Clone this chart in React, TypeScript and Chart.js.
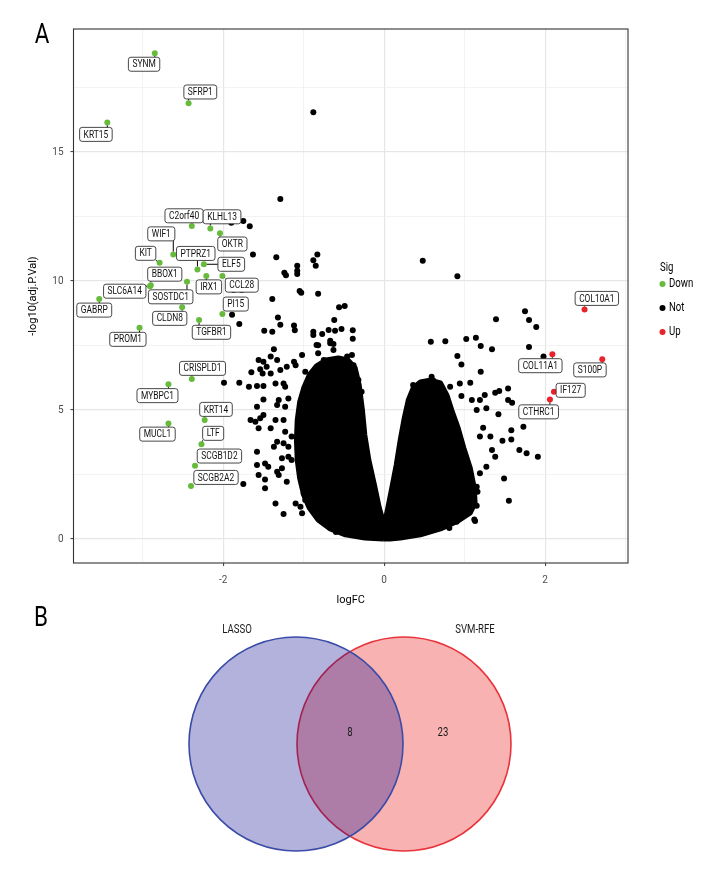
import React, { useEffect, useRef } from 'react';
import { Chart, registerables } from 'chart.js';

Chart.register(...registerables);

const FONT = "Roboto, 'Liberation Sans', sans-serif";
const SQUEEZE = 0.8; // horizontal compression to mimic the condensed face of the original

// ---------------- Data ----------------
const sigLevels = ['Down', 'Not', 'Up'];
const sigColors = ['#66BB3C', '#000000', '#E8232B'];

const downGenes = ['SYNM', 'SFRP1', 'KRT15', 'C2orf40', 'KLHL13', 'OKTR', 'WIF1', 'PTPRZ1', 'ELF5', 'KIT', 'IRX1', 'CCL28', 'BBOX1', 'SLC6A14', 'SOSTDC1', 'GABRP', 'CLDN8', 'TGFBR1', 'PI15', 'PROM1', 'CRISPLD1', 'MYBPC1', 'KRT14', 'MUCL1', 'LTF', 'SCGB1D2', 'SCGB2A2'];
const downLogFC = [-2.85, -2.43, -3.44, -2.39, -2.16, -2.04, -2.62, -2.32, -2.24, -2.79, -2.21, -2.01, -2.90, -2.91, -2.45, -3.54, -2.51, -2.30, -2.01, -3.04, -2.39, -2.68, -2.23, -2.68, -2.27, -2.35, -2.40];
const downNegLogP = [18.83, 16.89, 16.15, 12.13, 12.04, 11.85, 11.03, 10.45, 10.65, 10.71, 10.20, 10.20, 9.84, 9.80, 9.97, 9.30, 8.98, 8.49, 8.72, 8.19, 6.20, 6.00, 4.61, 4.48, 3.67, 2.84, 2.05];

const upGenes = ['COL10A1', 'COL11A1', 'S100P', 'IF127', 'CTHRC1'];
const upLogFC = [2.49, 2.09, 2.71, 2.11, 2.06];
const upNegLogP = [8.90, 7.16, 6.97, 5.71, 5.41];

// non-significant genes (scattered, outside the dense core)
const notPoints: [number, number][] = [
  [-0.88, 16.54], [-1.29, 13.18], [-1.75, 12.33], [-1.67, 12.12], [-1.90, 12.26], [-1.63, 11.03], [-1.34, 10.92],
  [-1.24, 10.32], [-1.22, 10.22], [-1.08, 10.59], [-1.08, 10.40], [-1.08, 10.27], [-0.88, 10.81], [-0.83, 11.03],
  [-0.85, 10.59], [0.48, 10.79], [0.91, 10.19], [-1.05, 9.61], [-1.03, 9.55], [-0.82, 9.51], [-1.39, 9.30],
  [-1.87, 9.65], [-1.77, 9.65], [-1.89, 8.69], [-1.80, 8.33], [-1.32, 8.59], [-1.29, 8.31], [-1.49, 8.07],
  [-1.39, 8.03], [-1.12, 8.28], [-1.11, 8.09], [-0.56, 8.98], [-0.49, 9.03], [-0.62, 8.49], [-0.88, 8.03],
  [-0.88, 7.91], [-0.77, 7.95], [-0.69, 8.10], [-0.61, 8.07], [-0.53, 8.14], [-0.39, 8.09], [-0.39, 7.76],
  [-0.67, 7.69], [-0.63, 7.56], [-0.82, 7.51], [-1.37, 7.36],
  [1.39, 8.52], [1.75, 8.83], [1.80, 8.49], [1.89, 8.22], [0.58, 7.65], [0.76, 7.67], [1.02, 7.75], [1.14, 7.80],
  [1.20, 7.48], [1.34, 7.36], [1.80, 7.44], [1.98, 7.07], [0.91, 7.09], [0.96, 6.76], [1.20, 6.48],
  [-1.41, 7.07], [-1.33, 6.94], [-1.50, 6.87], [-1.56, 6.94], [-1.46, 6.68], [-1.54, 6.58], [-1.65, 6.46],
  [-1.80, 6.06], [-1.58, 5.93], [-1.50, 5.93], [-1.35, 6.03], [-1.25, 6.03], [-1.23, 5.90], [-1.19, 5.45],
  [-1.31, 5.39], [-1.33, 5.19], [-1.23, 5.13], [-1.50, 5.41], [-1.58, 5.13], [-1.50, 4.81], [-1.54, 4.68],
  [-1.66, 4.61], [-1.60, 4.55], [-1.56, 4.29], [-1.41, 4.29], [-1.35, 4.61], [-1.25, 4.61], [-1.23, 4.16],
  [-1.33, 3.77], [-1.37, 3.58], [-1.25, 3.71], [-1.19, 3.58], [-1.15, 3.97], [-1.58, 3.38], [-1.27, 3.13],
  [-1.19, 3.19], [-1.15, 3.06], [-1.58, 2.87], [-1.48, 2.93], [-1.44, 2.80], [-1.27, 2.74], [-1.33, 2.61],
  [-1.56, 2.48], [-1.48, 2.31], [-1.48, 1.97], [-1.21, 2.22], [-1.31, 2.48], [-1.75, 2.13], [-1.35, 1.38],
  [-1.25, 0.97], [-1.10, 1.38], [-1.04, 1.25], [-1.02, 1.00], [-1.00, 1.77], [-0.98, 1.51],
  [-1.12, 6.87], [-1.10, 6.74], [-1.02, 7.13], [-0.84, 7.52], [-0.82, 7.20], [-0.75, 6.94], [-0.67, 7.59],
  [-0.63, 7.33], [-0.46, 7.07], [-0.40, 7.13], [-0.38, 6.74], [-0.46, 6.48], [-0.32, 6.16], [-0.28, 5.71],
  [-0.55, 6.29], [-0.88, 6.29], [-0.98, 6.48], [-0.92, 5.90],
  [-1.99, 6.06], [-1.68, 5.90], [-1.51, 6.42], [-1.41, 6.42], [-1.29, 6.55], [-1.21, 6.68],
  [0.36, 5.97], [0.47, 6.06], [0.59, 6.29], [0.61, 6.14], [0.72, 5.78], [0.82, 5.90], [0.94, 6.03], [1.07, 6.06],
  [0.96, 5.54], [1.09, 5.39], [1.19, 5.39], [1.25, 5.58], [1.15, 5.00], [1.27, 5.07], [1.38, 5.67], [1.43, 5.74],
  [1.54, 5.83], [1.54, 5.39], [1.59, 5.28], [1.42, 4.84], [1.23, 4.31], [1.32, 3.97], [1.19, 3.97], [1.73, 4.35],
  [1.58, 4.22], [1.47, 3.81], [1.58, 3.86], [1.68, 3.45], [1.77, 3.32], [1.91, 3.19], [1.34, 3.45], [1.38, 3.19],
  [1.27, 2.80], [1.19, 2.55], [1.49, 2.35], [1.15, 2.03], [1.16, 1.83], [1.55, 1.48], [1.15, 1.29], [1.03, 1.06],
  [0.84, 1.10], [1.12, 0.76], [0.90, 0.67],
  [-0.73, 0.66], [-0.60, 0.27], [-0.36, 0.16], [0.76, 0.54], [0.81, 0.43], [1.13, 0.70],
];

// outline of the dense, fully overlapping core of non-significant genes
const coreOutline: [number, number][] = [
  [-0.01, 0], [-0.24, 0.04], [-0.48, 0.16], [-0.67, 0.39], [-0.82, 0.74], [-0.93, 1.20], [-1.00, 1.71],
  [-1.05, 2.36], [-1.08, 3.06], [-1.09, 3.84], [-1.08, 4.61], [-1.05, 5.31], [-1.00, 5.85], [-0.93, 6.36],
  [-0.84, 6.71], [-0.72, 6.94], [-0.57, 7.02], [-0.45, 6.94], [-0.36, 6.63], [-0.31, 5.97], [-0.27, 5.00],
  [-0.24, 4.03], [-0.19, 3.06], [-0.12, 2.09], [-0.06, 1.20], [-0.01, 0.66], [0, 0.54], [0.04, 1.12],
  [0.09, 1.90], [0.15, 2.87], [0.20, 3.84], [0.25, 4.69], [0.30, 5.39], [0.36, 5.85], [0.45, 6.09],
  [0.57, 6.16], [0.70, 6.05], [0.78, 5.58], [0.84, 5.00], [0.92, 4.30], [0.99, 3.53], [1.07, 2.75],
  [1.12, 1.98], [1.13, 1.40], [1.07, 1.01], [0.92, 0.70], [0.70, 0.39], [0.45, 0.16], [0.20, 0.04],
  [0.07, 0], [-0.01, 0],
];

const xTickLabels = [-2, 0, 2];
const yTickLabels = [0, 5, 10, 15];

const vennSets = ['LASSO', 'SVM-RFE'];
const vennRegionCounts = [0, 8, 23]; // LASSO only, both, SVM-RFE only

// ---------------- Layout (label placement, px offsets from point) ----------------
const labelNudge: Record<string, [number, number]> = {
  SYNM: [-10.7, 11], SFRP1: [11.7, -11.3], KRT15: [-11.4, 12], C2orf40: [-7.7, -10.3], KLHL13: [11.7, -11.6],
  OKTR: [12.4, 10.7], WIF1: [-12, -20.6], PTPRZ1: [-1.7, -16], ELF5: [27.4, 0], KIT: [-14, -9.4],
  IRX1: [2.6, 11], CCL28: [19.4, 9.3], BBOX1: [14, -11], SLC6A14: [-25.2, 5], SOSTDC1: [-16.3, 15],
  GABRP: [-5, 11], CLDN8: [-12.4, 11], TGFBR1: [12.4, 12.3], PI15: [13.4, -10], PROM1: [-11.6, 11.6],
  CRISPLD1: [10.7, -10.7], MYBPC1: [-11, 11.4], KRT14: [11.3, -10.7], MUCL1: [-11, 10.7], LTF: [11.7, -11],
  SCGB1D2: [24.4, -9.7], SCGB2A2: [25, -8.7], COL10A1: [12.3, -11], COL11A1: [-12, 11.4], S100P: [-12.3, 10.7],
  IF127: [16.7, -1.4], CTHRC1: [-11.3, 12.4],
};

const W = 720;
const TOP_H = 610;
const BOT_TOP = 600;
const BOT_H = 288;
const PT_R = 3;

function roundRect(ctx: CanvasRenderingContext2D, x: number, y: number, w: number, h: number, r: number) {
  ctx.beginPath();
  ctx.moveTo(x + r, y);
  ctx.lineTo(x + w - r, y);
  ctx.arcTo(x + w, y, x + w, y + r, r);
  ctx.lineTo(x + w, y + h - r);
  ctx.arcTo(x + w, y + h, x + w - r, y + h, r);
  ctx.lineTo(x + r, y + h);
  ctx.arcTo(x, y + h, x, y + h - r, r);
  ctx.lineTo(x, y + r);
  ctx.arcTo(x, y, x + r, y, r);
  ctx.closePath();
}

function squeezedText(ctx: CanvasRenderingContext2D, text: string, x: number, y: number, align: CanvasTextAlign) {
  ctx.save();
  ctx.translate(x, y);
  ctx.scale(SQUEEZE, 1);
  ctx.textAlign = align;
  ctx.textBaseline = 'middle';
  ctx.fillText(text, 0, 0);
  ctx.restore();
}

const volcanoDecor = {
  id: 'volcanoDecor',
  afterDatasetsDraw(chart: any) {
    const { ctx, chartArea: a, scales } = chart;
    const xs = scales.x, ys = scales.y;
    ctx.save();
    ctx.strokeStyle = '#333333';
    ctx.lineWidth = 1.1;
    ctx.strokeRect(a.left, a.top, a.right - a.left, a.bottom - a.top);

    ctx.font = `10.5px ${FONT}`;
    const drawLabel = (name: string, vx: number, vy: number) => {
      const px = xs.getPixelForValue(vx), py = ys.getPixelForValue(vy);
      const [dx, dy] = labelNudge[name] || [0, -12];
      const cx = px + dx, cy = py + dy;
      const w = ctx.measureText(name).width * SQUEEZE + 8, h = 14;
      const l = cx - w / 2, t = cy - h / 2;
      const qx = Math.max(l, Math.min(px, l + w)), qy = Math.max(t, Math.min(py, t + h));
      const d = Math.hypot(qx - px, qy - py);
      if (d > PT_R + 0.5) {
        const sx = px + (qx - px) * (PT_R / d), sy = py + (qy - py) * (PT_R / d);
        ctx.beginPath();
        ctx.moveTo(sx, sy);
        ctx.lineTo(qx, qy);
        ctx.strokeStyle = '#000';
        ctx.lineWidth = 1;
        ctx.stroke();
      }
      roundRect(ctx, l, t, w, h, 2.5);
      ctx.fillStyle = '#ffffff';
      ctx.fill();
      ctx.strokeStyle = '#333';
      ctx.lineWidth = 0.9;
      ctx.stroke();
      ctx.fillStyle = '#111';
      squeezedText(ctx, name, cx, cy + 0.5, 'center');
    };
    downGenes.forEach((g, i) => drawLabel(g, downLogFC[i], downNegLogP[i]));
    upGenes.forEach((g, i) => drawLabel(g, upLogFC[i], upNegLogP[i]));

    // legend
    ctx.fillStyle = '#000';
    ctx.font = `12px ${FONT}`;
    squeezedText(ctx, 'Sig', 660, 268, 'left');
    sigLevels.forEach((lvl, i) => {
      const yy = 284 + i * 24;
      ctx.beginPath();
      ctx.arc(662.5, yy, PT_R, 0, Math.PI * 2);
      ctx.fillStyle = sigColors[i];
      ctx.fill();
      ctx.fillStyle = '#000';
      squeezedText(ctx, lvl, 669, yy, 'left');
    });

    ctx.font = `28px ${FONT}`;
    squeezedText(ctx, 'A', 42, 36, 'center');
    ctx.restore();
  },
};

const vennDecor = {
  id: 'vennDecor',
  afterDatasetsDraw(chart: any) {
    const { ctx, scales } = chart;
    const xs = scales.x, ys = scales.y;
    const c1 = xs.getPixelForValue(-1), c2 = xs.getPixelForValue(1), cy = ys.getPixelForValue(0);
    ctx.save();
    ctx.fillStyle = '#1a1a1a';
    ctx.font = `12px ${FONT}`;
    squeezedText(ctx, vennSets[0], c1 - 59, cy - 114, 'center');
    squeezedText(ctx, vennSets[1], c2 + 71, cy - 114, 'center');
    const left = vennRegionCounts[0], both = vennRegionCounts[1], right = vennRegionCounts[2];
    if (both) squeezedText(ctx, String(both), (c1 + c2) / 2, cy - 11, 'center');
    if (right) squeezedText(ctx, String(right), c2 + 39, cy - 11, 'center');
    if (left) squeezedText(ctx, String(left), c1 - 39, cy - 11, 'center');
    ctx.font = `28px ${FONT}`;
    ctx.fillStyle = '#000';
    squeezedText(ctx, 'B', 41, 19, 'center');
    ctx.restore();
  },
};

export default function App() {
  const topRef = useRef<HTMLCanvasElement>(null);
  const botRef = useRef<HTMLCanvasElement>(null);

  useEffect(() => {
    const isMajorX = (v: number) => xTickLabels.includes(v);
    const isMajorY = (v: number) => yTickLabels.includes(v);

    const volcano = new Chart(topRef.current!, {
      type: 'scatter',
      data: {
        datasets: [
          {
            type: 'line',
            label: 'core',
            data: coreOutline.map(([x, y]) => ({ x, y })),
            showLine: true,
            fill: 'shape',
            backgroundColor: '#000',
            borderColor: '#000',
            borderWidth: 5,
            borderJoinStyle: 'round',
            tension: 0,
            pointRadius: 0,
          } as any,
          {
            label: sigLevels[1],
            data: notPoints.map(([x, y]) => ({ x, y })),
            backgroundColor: sigColors[1],
            borderWidth: 0,
            pointRadius: PT_R,
          },
          {
            label: sigLevels[0],
            data: downLogFC.map((x, i) => ({ x, y: downNegLogP[i] })),
            backgroundColor: sigColors[0],
            borderWidth: 0,
            pointRadius: PT_R,
          },
          {
            label: sigLevels[2],
            data: upLogFC.map((x, i) => ({ x, y: upNegLogP[i] })),
            backgroundColor: sigColors[2],
            borderWidth: 0,
            pointRadius: PT_R,
          },
        ],
      },
      options: {
        responsive: false,
        animation: false,
        events: [],
        layout: { padding: { top: 29, right: 92, bottom: 0, left: 0 } },
        plugins: { legend: { display: false }, tooltip: { enabled: false } },
        scales: {
          x: {
            type: 'linear',
            min: -3.86,
            max: 3.03,
            afterFit: (s: any) => { s.height = 47; },
            border: { display: false },
            grid: {
              color: (c: any) => (isMajorX(c.tick?.value) ? '#E6E6E6' : '#EEEEEE'),
              lineWidth: (c: any) => (isMajorX(c.tick?.value) ? 1.2 : 0.7),
              tickLength: 3,
              tickColor: (c: any) => (isMajorX(c.tick?.value) ? '#333' : 'rgba(0,0,0,0)'),
              tickWidth: 1,
            },
            ticks: {
              stepSize: 1,
              includeBounds: false,
              autoSkip: false,
              maxRotation: 0,
              padding: 8,
              color: '#4D4D4D',
              font: { family: FONT, size: 10 },
              callback: (v: any) => (isMajorX(Number(v)) ? String(v) : ''),
            },
            title: { display: true, text: 'logFC', color: '#000', font: { family: FONT, size: 11 }, padding: { top: 0, bottom: 3 } },
          },
          y: {
            type: 'linear',
            min: -0.93,
            max: 19.77,
            afterFit: (s: any) => { s.width = 73.5; },
            border: { display: false },
            grid: {
              color: (c: any) => (isMajorY(c.tick?.value) ? '#E6E6E6' : '#EEEEEE'),
              lineWidth: (c: any) => (isMajorY(c.tick?.value) ? 1.2 : 0.7),
              tickLength: 3,
              tickColor: (c: any) => (isMajorY(c.tick?.value) ? '#333' : 'rgba(0,0,0,0)'),
              tickWidth: 1,
            },
            ticks: {
              stepSize: 2.5,
              includeBounds: false,
              autoSkip: false,
              padding: 7,
              color: '#4D4D4D',
              font: { family: FONT, size: 10 },
              callback: (v: any) => (isMajorY(Number(v)) ? String(v) : ''),
            },
            title: { display: true, text: '-log10(adj.P.Val)', color: '#000', font: { family: FONT, size: 11 }, padding: { top: 27, bottom: 0 } },
          },
        },
      } as any,
      plugins: [volcanoDecor],
    });

    const venn = new Chart(botRef.current!, {
      type: 'scatter',
      data: {
        datasets: [
          {
            label: vennSets[0],
            data: [{ x: -1, y: 0 }],
            backgroundColor: 'rgba(0,0,139,0.3)',
            borderColor: '#3A4BA8',
            borderWidth: 1.6,
            pointRadius: 107,
            clip: false,
          } as any,
          {
            label: vennSets[1],
            data: [{ x: 1, y: 0 }],
            backgroundColor: 'rgba(236,0,0,0.3)',
            borderColor: '#E8333C',
            borderWidth: 1.6,
            pointRadius: 107,
            clip: false,
          } as any,
        ],
      },
      options: {
        responsive: false,
        animation: false,
        events: [],
        layout: { padding: { left: 296, right: 316, top: 51, bottom: 37 } },
        plugins: { legend: { display: false }, tooltip: { enabled: false } },
        scales: {
          x: { type: 'linear', min: -1, max: 1, display: false },
          y: { type: 'linear', min: -1, max: 1, display: false },
        },
      } as any,
      plugins: [vennDecor],
    });

    return () => {
      volcano.destroy();
      venn.destroy();
    };
  }, []);

  return (
    <div style={{ position: 'absolute', left: 0, top: 0, width: W, height: BOT_TOP + BOT_H, background: '#fff' }}>
      <canvas ref={topRef} width={W} height={TOP_H} style={{ position: 'absolute', left: 0, top: 0, width: W, height: TOP_H }} />
      <canvas ref={botRef} width={W} height={BOT_H} style={{ position: 'absolute', left: 0, top: BOT_TOP, width: W, height: BOT_H }} />
    </div>
  );
}
